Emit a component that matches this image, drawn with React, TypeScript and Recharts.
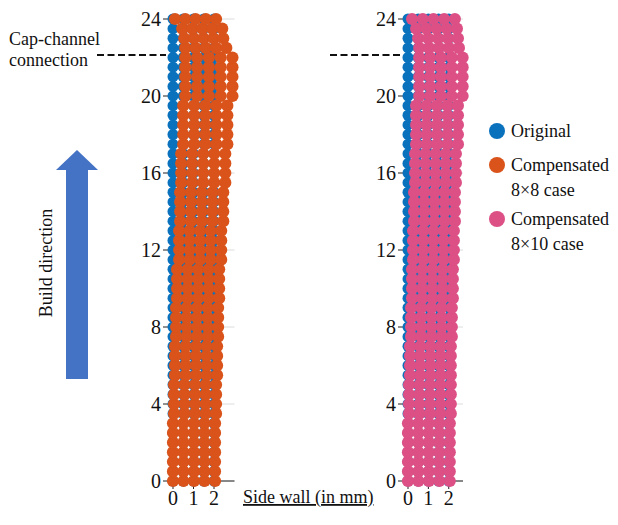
import React from 'react';
import { ScatterChart, Scatter, XAxis, YAxis, CartesianGrid } from 'recharts';

// grid rows (height, mm) and original columns (side wall, mm)
const ROW_Y = [
  0, 0.5, 1, 1.5, 2, 2.5, 3, 3.5, 4, 4.5, 5, 5.5, 6, 6.5, 7, 7.5, 8, 8.5, 9, 9.5,
  10, 10.5, 11, 11.5, 12, 12.5, 13, 13.5, 14, 14.5, 15, 15.5, 16, 16.5, 17, 17.5,
  18, 18.5, 19, 19.5, 20, 20.5, 21, 21.5, 22, 22.5, 23, 23.5, 24,
];
const ORIGINAL_X = [0, 0.5, 1, 1.5, 2];
const COLUMN_COUNT = 5;

// compensated 8x8 case: first / last column position in each row
const COMP8_LEFT = [
  0, 0, 0, 0, 0, 0, 0,
  0.05, 0.05, 0.05, 0.05,
  0.1, 0.1, 0.1, 0.1,
  0.15, 0.15, 0.15, 0.15,
  0.2, 0.2, 0.2, 0.2,
  0.3, 0.3, 0.3, 0.3,
  0.35, 0.35, 0.35, 0.35,
  0.4, 0.4, 0.4, 0.4,
  0.5, 0.5, 0.5, 0.5, 0.5,
  0.6, 0.6, 0.6, 0.6, 0.6,
  0.6, 0.55, 0.45, 0.1,
];
const COMP8_RIGHT = [
  2.05, 2.05, 2.05, 2.05, 2.05, 2.05, 2.05,
  2.1, 2.1, 2.1, 2.1,
  2.15, 2.15, 2.15, 2.15,
  2.2, 2.2, 2.2, 2.2,
  2.25, 2.25, 2.25, 2.25,
  2.35, 2.35, 2.35, 2.35,
  2.45, 2.45, 2.45, 2.45,
  2.55, 2.55, 2.55, 2.55,
  2.65, 2.65, 2.65, 2.65, 2.65,
  2.9, 2.9, 2.9, 2.9, 2.9,
  2.6, 2.45, 2.4, 2.1,
];

// compensated 8x10 case
const COMP10_LEFT = [
  0, 0, 0, 0, 0, 0, 0,
  0.05, 0.05, 0.05, 0.05,
  0.1, 0.1, 0.1, 0.1,
  0.15, 0.15, 0.15, 0.15,
  0.2, 0.2, 0.2, 0.2,
  0.25, 0.25, 0.25, 0.25,
  0.3, 0.3, 0.3, 0.3,
  0.35, 0.35, 0.35, 0.35,
  0.4, 0.4, 0.4, 0.4, 0.4,
  0.55, 0.55, 0.55, 0.55, 0.55,
  0.55, 0.5, 0.4, 0.2,
];
const COMP10_RIGHT = [
  2.05, 2.05, 2.05, 2.05, 2.05, 2.05, 2.05,
  2.1, 2.1, 2.1, 2.1,
  2.1, 2.1, 2.1, 2.1,
  2.15, 2.15, 2.15, 2.15,
  2.2, 2.2, 2.2, 2.2,
  2.25, 2.25, 2.25, 2.25,
  2.3, 2.3, 2.3, 2.3,
  2.35, 2.35, 2.35, 2.35,
  2.45, 2.45, 2.45, 2.45, 2.45,
  2.68, 2.68, 2.68, 2.68, 2.68,
  2.5, 2.45, 2.4, 2.3,
];

const Y_TICKS = [0, 4, 8, 12, 16, 20, 24];
const X_TICKS = [0, 1, 2];

const COLORS = {
  original: '#0a72bd',
  comp8: '#d9531a',
  comp10: '#dc5085',
  arrow: '#4472c4',
};

const FONT = '"Liberation Serif", "Times New Roman", serif';

const originalData = ROW_Y.flatMap((y) => ORIGINAL_X.map((x) => ({ x, y })));

function compensated(lefts: number[], rights: number[]) {
  return ROW_Y.flatMap((y, i) =>
    Array.from({ length: COLUMN_COUNT }, (_, j) => ({
      x: lefts[i] + ((rights[i] - lefts[i]) * j) / (COLUMN_COUNT - 1),
      y,
    })),
  );
}

const comp8Data = compensated(COMP8_LEFT, COMP8_RIGHT);
const comp10Data = compensated(COMP10_LEFT, COMP10_RIGHT);

const dot = (color: string, r: number) => (props: any) =>
  <circle cx={props.cx} cy={props.cy} r={r} fill={color} />;

interface PanelProps {
  left: number;
  axisWidth: number;
  xMax: number;
  marginRight: number;
  data: { x: number; y: number }[];
  color: string;
}

function Panel({ left, axisWidth, xMax, marginRight, data, color }: PanelProps) {
  const tick = { fontFamily: FONT, fontSize: 20, fill: '#111' };
  return (
    <div style={{ position: 'absolute', left, top: 0 }}>
      <ScatterChart width={150} height={525} margin={{ top: 19, right: marginRight, bottom: 14, left: 0 }}>
        <CartesianGrid horizontal vertical={false} stroke="#dcdcdc" />
        <XAxis
          type="number"
          dataKey="x"
          domain={[0, xMax]}
          ticks={X_TICKS}
          tick={tick}
          tickSize={8}
          tickMargin={2}
          height={30}
          stroke="#222"
        />
        <YAxis
          type="number"
          dataKey="y"
          domain={[0, 24]}
          ticks={Y_TICKS}
          tick={tick}
          tickSize={10}
          tickMargin={2}
          width={axisWidth}
          stroke="#222"
        />
        <Scatter data={originalData} shape={dot(COLORS.original, 5.5)} isAnimationActive={false} />
        <Scatter data={data} shape={dot(color, 6.1)} isAnimationActive={false} />
      </ScatterChart>
    </div>
  );
}

export default function App() {
  const text = { fontFamily: FONT, fontSize: 18, fill: '#111' };
  return (
    <div style={{ position: 'absolute', left: 0, top: 0, width: 618, height: 525, background: '#fff' }}>
      <svg width={618} height={525} style={{ position: 'absolute', left: 0, top: 0 }}>
        <text x={9} y={45} {...text}>Cap-channel</text>
        <text x={9} y={66} {...text}>connection</text>
        <line x1={97} y1={55} x2={166} y2={55} stroke="#111" strokeWidth={2.2} strokeDasharray="7 3.5" />
        <line x1={330} y1={55} x2={402} y2={55} stroke="#111" strokeWidth={2.2} strokeDasharray="7 3.5" />
        <rect x={66} y={169} width={22} height={210} fill={COLORS.arrow} />
        <polygon points="56,170 98,170 77,150" fill={COLORS.arrow} />
        <text x={0} y={0} {...text} textAnchor="middle" transform="translate(52,263) rotate(-90)">
          Build direction
        </text>
        <text x={243} y={503} {...text} textDecoration="underline">Side wall (in mm)</text>
        <circle cx={497} cy={131} r={8} fill={COLORS.original} />
        <text x={511} y={137} {...text}>Original</text>
        <circle cx={497} cy={165} r={8} fill={COLORS.comp8} />
        <text x={511} y={171} {...text}>Compensated</text>
        <text x={511} y={196} {...text}>8×8 case</text>
        <circle cx={497} cy={219} r={8} fill={COLORS.comp10} />
        <text x={511} y={225} {...text}>Compensated</text>
        <text x={511} y={250} {...text}>8×10 case</text>
      </svg>
      <Panel left={100} axisWidth={73} xMax={3} marginRight={15.5} data={comp8Data} color={COLORS.comp8} />
      <Panel left={330} axisWidth={78} xMax={2.7} marginRight={17} data={comp10Data} color={COLORS.comp10} />
    </div>
  );
}
